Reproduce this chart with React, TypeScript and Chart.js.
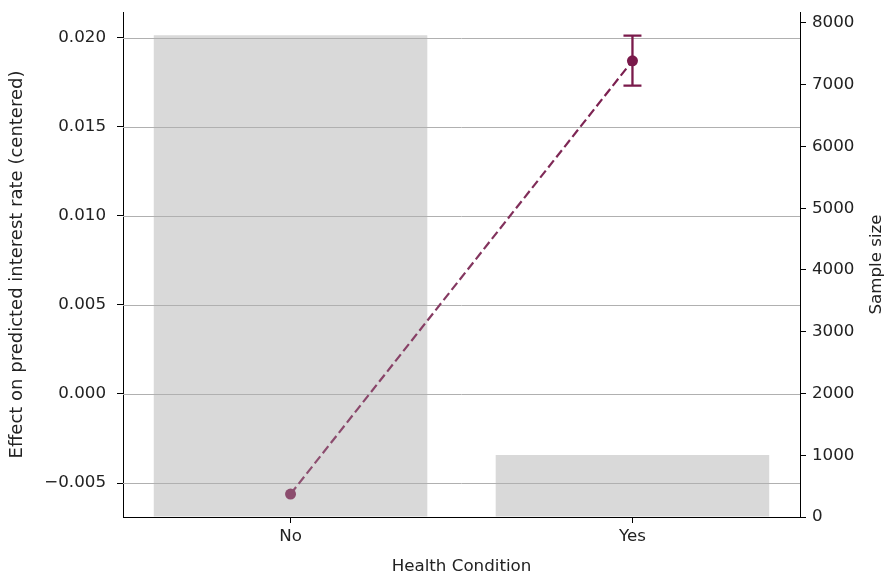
import React, { useEffect, useRef } from "react";
import { Chart, registerables } from "chart.js";

Chart.register(...registerables);

const categories = ["No", "Yes"];
const effectValues = [-0.00562, 0.01872];
const errLow = [-0.00562, 0.01732];
const errHigh = [-0.00562, 0.02013];
const sampleSizes = [7800, 1005];
const leftTicks = [-0.005, 0, 0.005, 0.01, 0.015, 0.02];
const rightTicks = [0, 1000, 2000, 3000, 4000, 5000, 6000, 7000, 8000];
const rightTitle = "Sample size";

const FONT = "DejaVu Sans";
const FS = 16.7;
const TEXT = "#222222";

const gridOverBars = {
  id: "gridOverBars",
  beforeDatasetDraw(chart: any, args: any) {
    if (args.meta.type !== "line") return;
    const { ctx, chartArea } = chart;
    const y = chart.scales.y;
    ctx.save();
    ctx.strokeStyle = "#b0b0b0";
    ctx.lineWidth = 1;
    leftTicks.forEach((v) => {
      const py = Math.round(y.getPixelForValue(v)) + 0.5;
      ctx.beginPath();
      ctx.moveTo(chartArea.left, py);
      ctx.lineTo(chartArea.right, py);
      ctx.stroke();
    });
    ctx.restore();
  },
  afterDatasetsDraw(chart: any) {
    const { ctx } = chart;
    const x = chart.scales.x;
    const y = chart.scales.y;
    ctx.save();
    ctx.strokeStyle = "#7a1a4b";
    ctx.lineWidth = 2.3;
    categories.forEach((c, i) => {
      if (errHigh[i] - errLow[i] <= 0) return;
      const px = x.getPixelForValue(i);
      const y1 = y.getPixelForValue(errLow[i]);
      const y2 = y.getPixelForValue(errHigh[i]);
      ctx.beginPath();
      ctx.moveTo(px, y1);
      ctx.lineTo(px, y2);
      ctx.moveTo(px - 9, y1);
      ctx.lineTo(px + 9, y1);
      ctx.moveTo(px - 9, y2);
      ctx.lineTo(px + 9, y2);
      ctx.stroke();
    });
    ctx.restore();
  },
  afterDraw(chart: any) {
    const { ctx, chartArea } = chart;
    ctx.save();
    ctx.fillStyle = TEXT;
    ctx.font = `${FS}px "${FONT}"`;
    ctx.textAlign = "center";
    ctx.textBaseline = "middle";
    ctx.translate(chart.width - 11, (chartArea.top + chartArea.bottom) / 2);
    ctx.rotate(-Math.PI / 2);
    ctx.fillText(rightTitle, 0, 0);
    ctx.restore();
  },
};

export default function App() {
  const ref = useRef<HTMLCanvasElement>(null);
  useEffect(() => {
    if (!ref.current) return;
    const lineColor = (context: any) => {
      const chart = context.chart;
      const y = chart.scales?.y;
      if (!y || !chart.chartArea) return "#7d2a58";
      const g = chart.ctx.createLinearGradient(
        0,
        y.getPixelForValue(effectValues[0]),
        0,
        y.getPixelForValue(effectValues[1])
      );
      g.addColorStop(0, "#8e5272");
      g.addColorStop(1, "#7a1d4e");
      return g;
    };
    const chart = new Chart(ref.current, {
      type: "bar",
      data: {
        datasets: [
          {
            type: "line",
            label: "Effect",
            data: effectValues.map((v, i) => ({ x: i, y: v })),
            yAxisID: "y",
            borderColor: lineColor,
            borderWidth: 2.2,
            borderDash: [9, 4],
            pointRadius: 5.5,
            pointBackgroundColor: ["#8c4d6e", "#7a1a4b"],
            pointBorderColor: ["#8c4d6e", "#7a1a4b"],
            pointBorderWidth: 0,
            fill: false,
            tension: 0,
            order: 0,
          } as any,
          {
            type: "bar",
            label: "Sample size",
            data: sampleSizes.map((v, i) => ({ x: i, y: v })),
            yAxisID: "y2",
            backgroundColor: "#d9d9d9",
            borderWidth: 0,
            barPercentage: 0.8,
            categoryPercentage: 1.0,
            order: 1,
          } as any,
        ],
      },
      options: {
        responsive: false,
        animation: false,
        events: [],
        layout: { padding: { top: 12, left: 0, right: 0, bottom: 0 } },
        plugins: { legend: { display: false }, tooltip: { enabled: false } },
        scales: {
          x: {
            type: "linear",
            min: -0.49,
            max: 1.49,
            offset: false,
            grid: {
              offset: false,
              drawOnChartArea: false,
              drawTicks: true,
              tickLength: 6,
              tickColor: "#000",
            },
            border: { display: true, color: "#000", width: 1 },
            ticks: {
              color: TEXT,
              font: { family: FONT, size: FS },
              padding: 4,
              callback: (v: any) => categories[Number(v)] ?? "",
            },
            afterBuildTicks(scale: any) {
              scale.ticks = categories.map((c, i) => ({ value: i }));
            },
            title: {
              display: true,
              text: "Health Condition",
              color: TEXT,
              font: { family: FONT, size: FS },
              padding: { top: 0, bottom: 1 },
            },
            afterFit(scale: any) {
              scale.height = 61;
              scale.paddingLeft = 0;
              scale.paddingRight = 0;
            },
          } as any,
          y: {
            type: "linear",
            position: "left",
            min: -0.00691,
            max: 0.02146,
            grid: {
              drawOnChartArea: false,
              drawTicks: true,
              tickLength: 6,
              tickColor: "#000",
            },
            border: { display: true, color: "#000", width: 1 },
            ticks: {
              color: TEXT,
              font: { family: FONT, size: FS },
              padding: 11,
              callback: (v: any) => {
                const n = Number(v);
                return (n < -1e-12 ? "\u2212" : "") + Math.abs(n).toFixed(3);
              },
            },
            afterBuildTicks(scale: any) {
              scale.ticks = leftTicks.map((v) => ({ value: v }));
            },
            title: {
              display: true,
              text: "Effect on predicted interest rate (centered)",
              color: TEXT,
              font: { family: FONT, size: 18 },
              padding: { top: 7, bottom: 0 },
            },
            afterFit(scale: any) {
              scale.width = 123;
              scale.paddingTop = 0;
              scale.paddingBottom = 0;
            },
          } as any,
          y2: {
            type: "linear",
            position: "right",
            min: 0,
            max: 8178,
            grid: {
              drawOnChartArea: false,
              drawTicks: true,
              tickLength: 6,
              tickColor: "#000",
            },
            border: { display: true, color: "#000", width: 1 },
            ticks: {
              color: TEXT,
              font: { family: FONT, size: FS },
              padding: 6,
              callback: (v: any) => String(Math.round(Number(v))),
            },
            afterBuildTicks(scale: any) {
              scale.ticks = rightTicks.map((v) => ({ value: v }));
            },
            title: { display: false },
            afterFit(scale: any) {
              scale.width = 88;
              scale.paddingTop = 0;
              scale.paddingBottom = 0;
            },
          } as any,
        },
      },
      plugins: [gridOverBars],
    });
    return () => chart.destroy();
  }, []);
  return (
    <div style={{ position: "fixed", left: 0, top: 0, width: 888, height: 578, background: "#fff" }}>
      <canvas ref={ref} width={888} height={578} style={{ display: "block" }} />
    </div>
  );
}
